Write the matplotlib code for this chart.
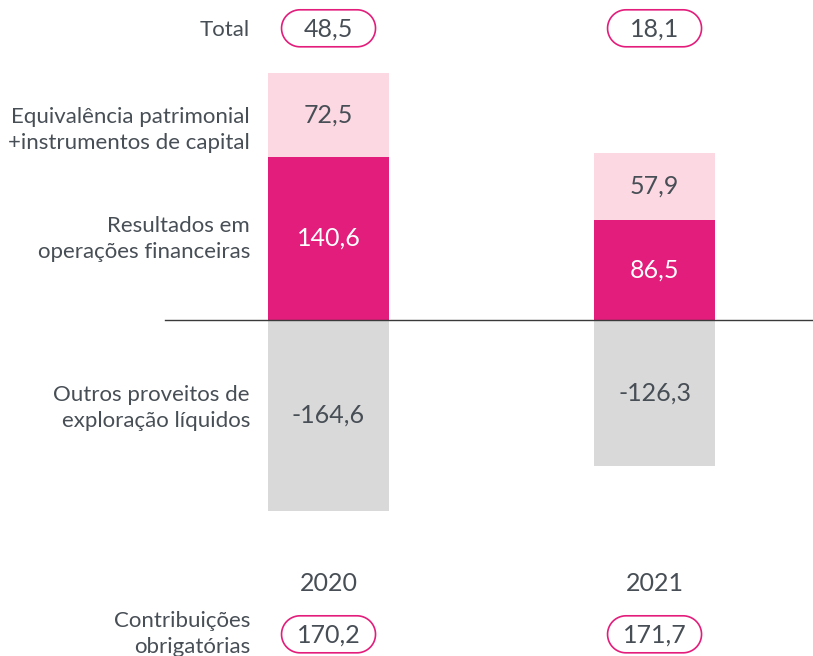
import numpy as np
import matplotlib.pyplot as plt
from matplotlib.patches import Polygon
from matplotlib.transforms import ScaledTranslation

years = ["2020", "2021"]
resultados = [140.6, 86.5]
equivalencia = [72.5, 57.9]
outros = [-164.6, -126.3]
total = ["48,5", "18,1"]
contribuicoes = ["170,2", "171,7"]

row_labels = ["Equivalência patrimonial\n+instrumentos de capital",
              "Resultados em\noperações financeiras",
              "Outros proveitos de\nexploração líquidos"]

MAGENTA = "#E31D7B"
PINK = "#FCD9E2"
GREY = "#D9D9D9"
TEXT = "#474E55"

plt.rcParams["font.family"] = ["Lato", "DejaVu Sans"]


def fmt(v):
    return f"{v:.1f}".replace(".", ",")


def stadium(w, h):
    # pill outline in inches, centred on (0, 0)
    r = h / 2
    t = np.linspace(np.pi / 2, 3 * np.pi / 2, 40)
    left = np.column_stack([-w / 2 + r + r * np.cos(t), r * np.sin(t)])
    t = np.linspace(-np.pi / 2, np.pi / 2, 40)
    right = np.column_stack([w / 2 - r + r * np.cos(t), r * np.sin(t)])
    return np.vstack([left, right])


fig = plt.figure(figsize=(8.13, 6.56), dpi=100)
ax = fig.add_axes([0, 0, 1, 1])
x = list(range(len(years)))
w = 0.371

ax.bar(x, resultados, width=w, color=MAGENTA)
ax.bar(x, equivalencia, width=w, bottom=resultados, color=PINK)
ax.bar(x, outros, width=w, color=GREY)

for i in x:
    ax.text(i, resultados[i] / 2, fmt(resultados[i]), ha="center", va="center",
            color="white", fontsize=18)
    ax.text(i, resultados[i] + equivalencia[i] / 2, fmt(equivalencia[i]),
            ha="center", va="center", color=TEXT, fontsize=18)
    ax.text(i, outros[i] / 2, fmt(outros[i]),
            ha="center", va="center", color=TEXT, fontsize=18)
    ax.text(i, -227.5, years[i], ha="center", va="center", color=TEXT, fontsize=18)
    for y, s in [(251.5, total[i]), (-271, contribuicoes[i])]:
        off = ScaledTranslation(i, y, ax.transData)
        oval = Polygon(stadium(0.94, 0.37), closed=True,
                       transform=fig.dpi_scale_trans + off,
                       facecolor="white", edgecolor=MAGENTA, lw=1.2,
                       clip_on=False)
        ax.add_patch(oval)
        ax.text(i, y - 1, s, ha="center", va="center", color=TEXT, fontsize=18)

lab_x = -0.241
ax.text(lab_x, 250, "Total", ha="right", va="center", color=TEXT, fontsize=16)
ax.text(lab_x, 163.5, row_labels[0], ha="right", va="center", color=TEXT,
        fontsize=16, linespacing=1.38)
ax.text(lab_x, 69.6, row_labels[1], ha="right", va="center", color=TEXT,
        fontsize=16, linespacing=1.38)
ax.text(lab_x, -76, row_labels[2], ha="right", va="center", color=TEXT,
        fontsize=16, linespacing=1.38)
ax.text(lab_x, -271, "Contribuições\nobrigatórias", ha="right", va="center",
        color=TEXT, fontsize=16, linespacing=1.38)

ax.axhline(0, xmin=165 / 813, xmax=1, color="#3a3a3a", lw=1)

ax.set_xlim(-1.0077, 1.486)
ax.set_ylim(-289.7, 275.9)
ax.axis("off")

fig.savefig("out.png", dpi=100)
